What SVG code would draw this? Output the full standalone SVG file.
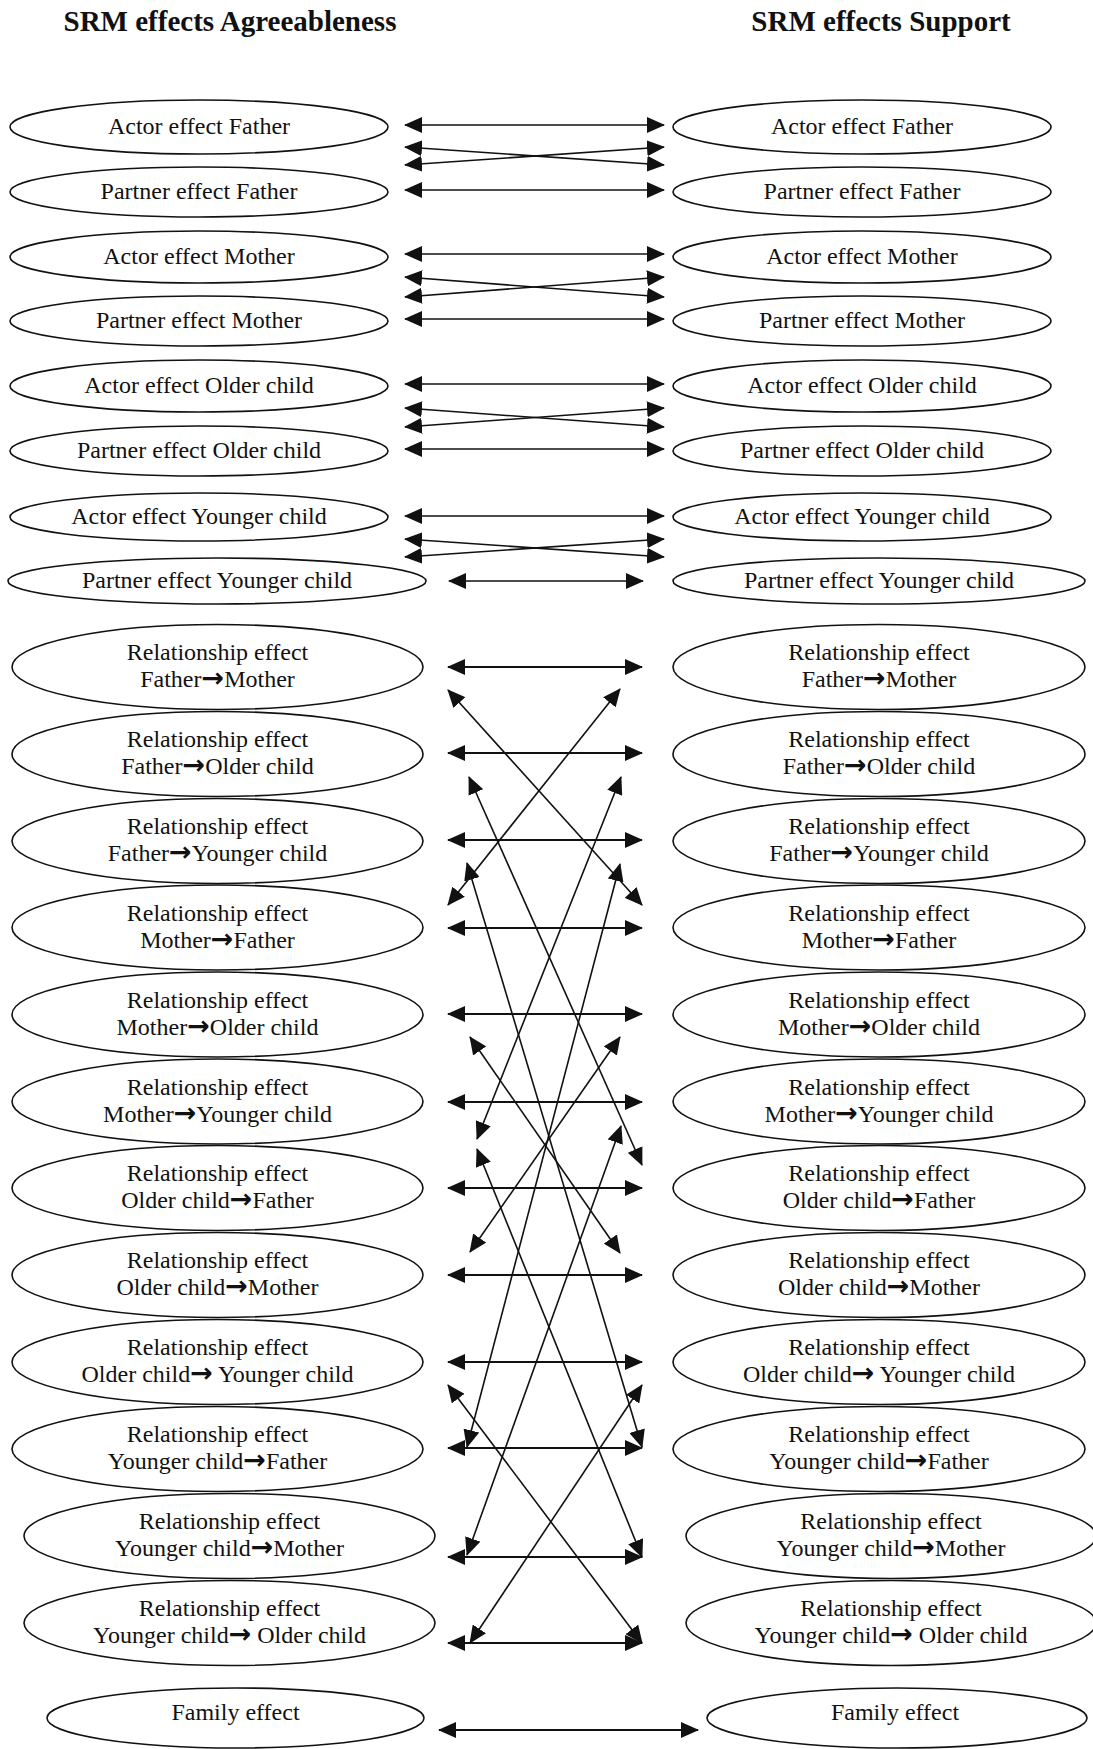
<svg xmlns="http://www.w3.org/2000/svg" width="1093" height="1749" viewBox="0 0 1093 1749">
<style>
text{font-family:"Liberation Serif","Times New Roman",serif;fill:#111;text-anchor:middle}
.title{font-size:29px;font-weight:bold}
.t{font-size:24px}
.r{font-size:24px}
.a{font-family:"DejaVu Sans",sans-serif;font-weight:bold;font-size:27px}
ellipse{fill:#fff;stroke:#111;stroke-width:1.6}
.c line{stroke:#111;stroke-width:1.6;marker-start:url(#ah);marker-end:url(#ah)}
.c line.h{stroke-width:2}
</style>
<defs>
<marker id="ah" viewBox="0 0 18 16" refX="17" refY="8" markerWidth="18" markerHeight="16" markerUnits="userSpaceOnUse" orient="auto-start-reverse">
<path d="M0,0 L18,8 L0,16 z" fill="#111"/>
</marker>
</defs>
<rect width="1093" height="1749" fill="#fff"/>
<text class="title" x="230" y="31">SRM effects Agreeableness</text>
<text class="title" x="881" y="31">SRM effects Support</text>

<g id="nodes-left">
<g id="L-actor-father"><ellipse cx="199" cy="127" rx="189" ry="27"/><text class="t" x="199" y="134">Actor effect Father</text></g>
<g id="L-partner-father"><ellipse cx="199" cy="192" rx="189" ry="25"/><text class="t" x="199" y="199">Partner effect Father</text></g>
<g id="L-actor-mother"><ellipse cx="199" cy="257" rx="189" ry="26"/><text class="t" x="199" y="264">Actor effect Mother</text></g>
<g id="L-partner-mother"><ellipse cx="199" cy="321" rx="189" ry="25"/><text class="t" x="199" y="328">Partner effect Mother</text></g>
<g id="L-actor-older"><ellipse cx="199" cy="386" rx="189" ry="26"/><text class="t" x="199" y="393">Actor effect Older child</text></g>
<g id="L-partner-older"><ellipse cx="199" cy="451" rx="189" ry="25"/><text class="t" x="199" y="458">Partner effect Older child</text></g>
<g id="L-actor-younger"><ellipse cx="199" cy="517" rx="189" ry="24"/><text class="t" x="199" y="524">Actor effect Younger child</text></g>
<g id="L-partner-younger"><ellipse cx="217" cy="581" rx="209" ry="23"/><text class="t" x="217" y="588">Partner effect Younger child</text></g>

<g id="L-rel-f-m"><ellipse cx="217.5" cy="667" rx="205.5" ry="42.5"/><text class="r" x="217.5" y="660">Relationship effect</text><text class="r" x="217.5" y="687">Father<tspan class="a">→</tspan>Mother</text></g>
<g id="L-rel-f-oc"><ellipse cx="217.5" cy="754" rx="205.5" ry="42.5"/><text class="r" x="217.5" y="747">Relationship effect</text><text class="r" x="217.5" y="774">Father<tspan class="a">→</tspan>Older child</text></g>
<g id="L-rel-f-yc"><ellipse cx="217.5" cy="841" rx="205.5" ry="42.5"/><text class="r" x="217.5" y="834">Relationship effect</text><text class="r" x="217.5" y="861">Father<tspan class="a">→</tspan>Younger child</text></g>
<g id="L-rel-m-f"><ellipse cx="217.5" cy="927.5" rx="205.5" ry="42.5"/><text class="r" x="217.5" y="920.5">Relationship effect</text><text class="r" x="217.5" y="947.5">Mother<tspan class="a">→</tspan>Father</text></g>
<g id="L-rel-m-oc"><ellipse cx="217.5" cy="1014.5" rx="205.5" ry="42.5"/><text class="r" x="217.5" y="1007.5">Relationship effect</text><text class="r" x="217.5" y="1034.5">Mother<tspan class="a">→</tspan>Older child</text></g>
<g id="L-rel-m-yc"><ellipse cx="217.5" cy="1101.5" rx="205.5" ry="42.5"/><text class="r" x="217.5" y="1094.5">Relationship effect</text><text class="r" x="217.5" y="1121.5">Mother<tspan class="a">→</tspan>Younger child</text></g>
<g id="L-rel-oc-f"><ellipse cx="217.5" cy="1188" rx="205.5" ry="42.5"/><text class="r" x="217.5" y="1181">Relationship effect</text><text class="r" x="217.5" y="1208">Older child<tspan class="a">→</tspan>Father</text></g>
<g id="L-rel-oc-m"><ellipse cx="217.5" cy="1275" rx="205.5" ry="42.5"/><text class="r" x="217.5" y="1268">Relationship effect</text><text class="r" x="217.5" y="1295">Older child<tspan class="a">→</tspan>Mother</text></g>
<g id="L-rel-oc-yc"><ellipse cx="217.5" cy="1362" rx="205.5" ry="42.5"/><text class="r" x="217.5" y="1355">Relationship effect</text><text class="r" x="217.5" y="1382">Older child<tspan class="a">→</tspan> Younger child</text></g>
<g id="L-rel-yc-f"><ellipse cx="217.5" cy="1449" rx="205.5" ry="42.5"/><text class="r" x="217.5" y="1442">Relationship effect</text><text class="r" x="217.5" y="1469">Younger child<tspan class="a">→</tspan>Father</text></g>
<g id="L-rel-yc-m"><ellipse cx="229.5" cy="1536" rx="205.5" ry="42.5"/><text class="r" x="229.5" y="1529">Relationship effect</text><text class="r" x="229.5" y="1556">Younger child<tspan class="a">→</tspan>Mother</text></g>
<g id="L-rel-yc-oc"><ellipse cx="229.5" cy="1623" rx="205.5" ry="42.5"/><text class="r" x="229.5" y="1616">Relationship effect</text><text class="r" x="229.5" y="1643">Younger child<tspan class="a">→</tspan> Older child</text></g>
<g id="L-family"><ellipse cx="235.5" cy="1718" rx="188.5" ry="30"/><text class="r" x="235.5" y="1720">Family effect</text></g>
</g>

<g id="nodes-right">
<g id="R-actor-father"><ellipse cx="862" cy="127" rx="189" ry="27"/><text class="t" x="862" y="134">Actor effect Father</text></g>
<g id="R-partner-father"><ellipse cx="862" cy="192" rx="189" ry="25"/><text class="t" x="862" y="199">Partner effect Father</text></g>
<g id="R-actor-mother"><ellipse cx="862" cy="257" rx="189" ry="26"/><text class="t" x="862" y="264">Actor effect Mother</text></g>
<g id="R-partner-mother"><ellipse cx="862" cy="321" rx="189" ry="25"/><text class="t" x="862" y="328">Partner effect Mother</text></g>
<g id="R-actor-older"><ellipse cx="862" cy="386" rx="189" ry="26"/><text class="t" x="862" y="393">Actor effect Older child</text></g>
<g id="R-partner-older"><ellipse cx="862" cy="451" rx="189" ry="25"/><text class="t" x="862" y="458">Partner effect Older child</text></g>
<g id="R-actor-younger"><ellipse cx="862" cy="517" rx="189" ry="24"/><text class="t" x="862" y="524">Actor effect Younger child</text></g>
<g id="R-partner-younger"><ellipse cx="879" cy="581" rx="206" ry="23"/><text class="t" x="879" y="588">Partner effect Younger child</text></g>

<g id="R-rel-f-m"><ellipse cx="879" cy="667" rx="206" ry="42.5"/><text class="r" x="879" y="660">Relationship effect</text><text class="r" x="879" y="687">Father<tspan class="a">→</tspan>Mother</text></g>
<g id="R-rel-f-oc"><ellipse cx="879" cy="754" rx="206" ry="42.5"/><text class="r" x="879" y="747">Relationship effect</text><text class="r" x="879" y="774">Father<tspan class="a">→</tspan>Older child</text></g>
<g id="R-rel-f-yc"><ellipse cx="879" cy="841" rx="206" ry="42.5"/><text class="r" x="879" y="834">Relationship effect</text><text class="r" x="879" y="861">Father<tspan class="a">→</tspan>Younger child</text></g>
<g id="R-rel-m-f"><ellipse cx="879" cy="927.5" rx="206" ry="42.5"/><text class="r" x="879" y="920.5">Relationship effect</text><text class="r" x="879" y="947.5">Mother<tspan class="a">→</tspan>Father</text></g>
<g id="R-rel-m-oc"><ellipse cx="879" cy="1014.5" rx="206" ry="42.5"/><text class="r" x="879" y="1007.5">Relationship effect</text><text class="r" x="879" y="1034.5">Mother<tspan class="a">→</tspan>Older child</text></g>
<g id="R-rel-m-yc"><ellipse cx="879" cy="1101.5" rx="206" ry="42.5"/><text class="r" x="879" y="1094.5">Relationship effect</text><text class="r" x="879" y="1121.5">Mother<tspan class="a">→</tspan>Younger child</text></g>
<g id="R-rel-oc-f"><ellipse cx="879" cy="1188" rx="206" ry="42.5"/><text class="r" x="879" y="1181">Relationship effect</text><text class="r" x="879" y="1208">Older child<tspan class="a">→</tspan>Father</text></g>
<g id="R-rel-oc-m"><ellipse cx="879" cy="1275" rx="206" ry="42.5"/><text class="r" x="879" y="1268">Relationship effect</text><text class="r" x="879" y="1295">Older child<tspan class="a">→</tspan>Mother</text></g>
<g id="R-rel-oc-yc"><ellipse cx="879" cy="1362" rx="206" ry="42.5"/><text class="r" x="879" y="1355">Relationship effect</text><text class="r" x="879" y="1382">Older child<tspan class="a">→</tspan> Younger child</text></g>
<g id="R-rel-yc-f"><ellipse cx="879" cy="1449" rx="206" ry="42.5"/><text class="r" x="879" y="1442">Relationship effect</text><text class="r" x="879" y="1469">Younger child<tspan class="a">→</tspan>Father</text></g>
<g id="R-rel-yc-m"><ellipse cx="891" cy="1536" rx="205" ry="42.5"/><text class="r" x="891" y="1529">Relationship effect</text><text class="r" x="891" y="1556">Younger child<tspan class="a">→</tspan>Mother</text></g>
<g id="R-rel-yc-oc"><ellipse cx="891" cy="1623" rx="205" ry="42.5"/><text class="r" x="891" y="1616">Relationship effect</text><text class="r" x="891" y="1643">Younger child<tspan class="a">→</tspan> Older child</text></g>
<g id="R-family"><ellipse cx="897" cy="1718" rx="190" ry="30"/><text class="r" x="895" y="1720">Family effect</text></g>
</g>

<g id="connectors" class="c">
<line x1="405" y1="125" x2="664" y2="125"/>
<line x1="405" y1="147" x2="664" y2="165"/>
<line x1="405" y1="165" x2="664" y2="147"/>
<line x1="405" y1="190" x2="664" y2="190"/>
<line x1="405" y1="254" x2="664" y2="254"/>
<line x1="405" y1="277" x2="664" y2="297"/>
<line x1="405" y1="297" x2="664" y2="277"/>
<line x1="405" y1="319" x2="664" y2="319"/>
<line x1="405" y1="384" x2="664" y2="384"/>
<line x1="405" y1="408" x2="664" y2="427"/>
<line x1="405" y1="427" x2="664" y2="408"/>
<line x1="405" y1="449" x2="664" y2="449"/>
<line x1="405" y1="516" x2="664" y2="516"/>
<line x1="405" y1="539" x2="664" y2="557"/>
<line x1="405" y1="557" x2="664" y2="539"/>
<line x1="449" y1="581" x2="643" y2="581"/>

<line class="h" x1="448" y1="667" x2="642" y2="667"/>
<line class="h" x1="448" y1="753" x2="642" y2="753"/>
<line class="h" x1="448" y1="840" x2="642" y2="840"/>
<line class="h" x1="448" y1="928" x2="642" y2="928"/>
<line class="h" x1="448" y1="1014" x2="642" y2="1014"/>
<line class="h" x1="448" y1="1102" x2="642" y2="1102"/>
<line class="h" x1="448" y1="1188" x2="642" y2="1188"/>
<line class="h" x1="448" y1="1275" x2="642" y2="1275"/>
<line class="h" x1="448" y1="1362" x2="642" y2="1362"/>
<line class="h" x1="448" y1="1448" x2="642" y2="1448"/>
<line class="h" x1="448" y1="1557" x2="642" y2="1557"/>
<line class="h" x1="448" y1="1643" x2="642" y2="1643"/>

<line x1="448" y1="690" x2="642" y2="905"/>
<line x1="448" y1="905" x2="620" y2="689"/>
<line x1="469" y1="777" x2="642" y2="1165"/>
<line x1="477" y1="1139" x2="621" y2="777"/>
<line x1="467" y1="863" x2="642" y2="1447"/>
<line x1="467" y1="1447" x2="620" y2="864"/>
<line x1="470" y1="1037" x2="620" y2="1253"/>
<line x1="470" y1="1252" x2="620" y2="1037"/>
<line x1="477" y1="1149" x2="642" y2="1557"/>
<line x1="467" y1="1555" x2="621" y2="1126"/>
<line x1="448" y1="1385" x2="642" y2="1643"/>
<line x1="470" y1="1643" x2="642" y2="1385"/>

<line class="h" x1="439" y1="1730" x2="698" y2="1730"/>
</g>
</svg>
